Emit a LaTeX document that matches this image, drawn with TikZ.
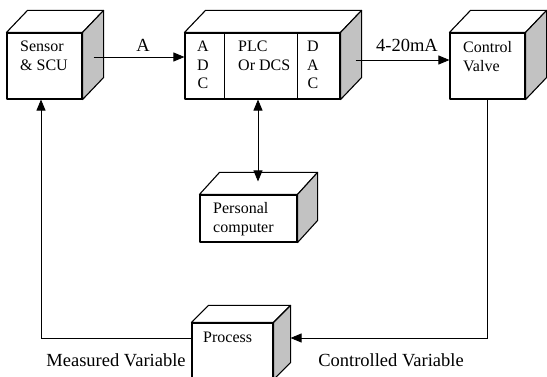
\documentclass[tikz,border=0pt]{standalone}
\usepackage{fontspec}
\setmainfont{Liberation Serif}
\usetikzlibrary{arrows.meta}

% top and side face of a box node (#1 = node, #2,#3 = depth)
\newcommand{\boxdepth}[3]{%
  \draw[face] (#1.north west) -- ++(#2,#3) -- ([shift={(#2,#3)}]#1.north east)
    -- (#1.north east) -- cycle;
  \draw[face, fill=sidegray] (#1.north east) -- ++(#2,#3)
    -- ([shift={(#2,#3)}]#1.south east) -- (#1.south east) -- cycle;}

\begin{document}
\begin{tikzpicture}[
    x=1pt, y=-1pt,
    every node/.style={font=\fontsize{16}{19}\selectfont},
    face/.style={draw, line width=1.1pt, fill=white, inner sep=0pt, line join=round},
    boxtext/.style={anchor=north west, align=left, inner sep=0pt},
    coltext/.style={anchor=north, align=center, inner sep=0pt,
      font=\fontsize{16}{18.5}\selectfont},
    biglabel/.style={font=\fontsize{18.5}{22}\selectfont, inner sep=0pt},
    arrow/.style={line width=0.8pt, -{Triangle[length=11pt,width=9pt]}}
]
\colorlet{sidegray}{black!24}
\clip (0,0) rectangle (547,377);

\node (sensor)  [face, minimum width=75, minimum height=66] at (44.5,66) {};
\node (plc)     [face, minimum width=155, minimum height=66] at (262.5,66) {};
\node (valve)   [face, minimum width=75, minimum height=66] at (487.5,66) {};
\node (pc)      [face, minimum width=97, minimum height=47] at (248.5,218.5) {};
\node (process) [face, minimum width=81, minimum height=56] at (232.5,351) {};

\boxdepth{sensor}{21}{-22}
\boxdepth{plc}{21}{-22}
\boxdepth{valve}{21}{-22}
\boxdepth{pc}{20}{-22}
\boxdepth{process}{17}{-17}

\draw[line width=1.1pt] ([xshift=40]plc.north west) -- ([xshift=40]plc.south west);
\draw[line width=1.1pt] ([xshift=-43]plc.north east) -- ([xshift=-43]plc.south east);

\node (sensortxt)  [boxtext] at (20,41) {Sensor\\\& SCU};
\node (adctxt)     [coltext] at (203,41) {A\\D\\C};
\node (plctxt)     [boxtext, font=\fontsize{16}{18.5}\selectfont] at (238,41) {PLC\\Or DCS};
\node (dactxt)     [coltext] at (313,41) {D\\A\\C};
\node (valvetxt)   [boxtext] at (463,41) {Control\\Valve};
\node (pctxt)      [boxtext] at (213,202) {Personal\\computer};
\node (processtxt) [boxtext] at (203,332) {Process};

\node (lblA)   [biglabel] at (143,45) {A};
\node (lblmA)  [biglabel] at (407,45) {4-20mA};
\node (lblmv)  [biglabel] at (116,360) {Measured Variable};
\node (lblcv)  [biglabel] at (391,360) {Controlled Variable};

\draw [arrow] ([shift={(11,-9)}]sensor.east) -- ([yshift=9]plc.west);
\draw [arrow] ([shift={(15,-6)}]plc.east) -- ([yshift=6]valve.west);
\draw [arrow, {Triangle[length=11pt,width=9pt]}-{Triangle[length=11pt,width=9pt]}]
  ([xshift=-4.5]plc.south) -- ([shift={(9.5,-13)}]pc.north);
\draw [arrow] (valve.south) |- ([shift={(17,-13)}]process.east);
\draw [arrow] ([yshift=13]process.west) -| ([xshift=-3.5]sensor.south);
\end{tikzpicture}
\end{document}
